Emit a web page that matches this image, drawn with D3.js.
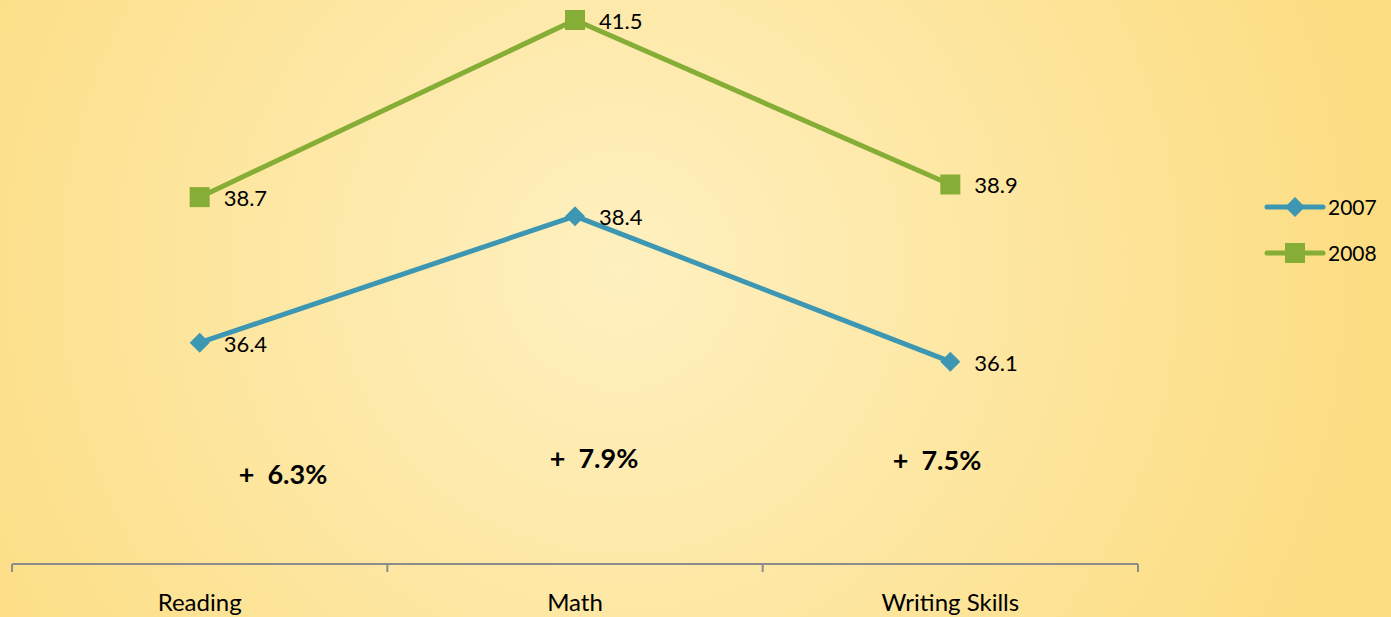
<!DOCTYPE html>
<html>
<head>
<meta charset="utf-8">
<script src="https://d3js.org/d3.v7.min.js"></script>
<style>
    body { margin: 0; overflow: hidden; }
    text { font-family: Lato, "Open Sans", sans-serif; fill: #000; }
</style>
</head>
<body>
<svg id="chart" width="1391" height="617"></svg>
<script>
    const categories = ["Reading", "Math", "Writing Skills"];
    const series2007 = [36.4, 38.4, 36.1];
    const series2008 = [38.7, 41.5, 38.9];
    const seriesNames = ["2007", "2008"];
    const changeLabels = ["+  6.3%", "+  7.9%", "+  7.5%"];
    const changeLevels = [34.17, 34.42, 34.39];

    const svg = d3.select("svg#chart");
    const width = +svg.attr("width");
    const height = +svg.attr("height");

    // background gradient
    const defs = svg.append("defs");
    const grad = defs.append("radialGradient").attr("id", "bg")
        .attr("gradientUnits", "userSpaceOnUse")
        .attr("cx", 620).attr("cy", 270).attr("r", 760);
    grad.append("stop").attr("offset", "0%").attr("stop-color", "#fef0c0");
    grad.append("stop").attr("offset", "100%").attr("stop-color", "#fcdd82");
    svg.append("rect").attr("width", width).attr("height", height).attr("fill", "url(#bg)");

    const plotLeft = 12, plotRight = 1138;
    const x = d3.scaleBand().domain(categories).range([plotLeft, plotRight]);
    const y = d3.scaleLinear().domain([32.87, 41.5]).range([566, 20]);
    const cx = c => x(c) + x.bandwidth() / 2;

    // axis
    const axis = svg.append("g").attr("transform", `translate(0,${y.range()[0] - 2})`);
    axis.append("line").attr("x1", plotLeft).attr("x2", plotRight)
        .attr("stroke", "#8c8c8c").attr("stroke-width", 2);
    const tickPos = categories.map(c => x(c)).concat([plotRight]);
    axis.selectAll("line.tick").data(tickPos).join("line").attr("class", "tick")
        .attr("x1", d => d).attr("x2", d => d).attr("y1", 0).attr("y2", 8)
        .attr("stroke", "#8c8c8c").attr("stroke-width", 2);
    axis.selectAll("text").data(categories).join("text")
        .attr("x", d => cx(d)).attr("y", 47)
        .attr("text-anchor", "middle").style("font-size", "24px")
        .text(d => d);

    const colors = {"2007": "#3d97b3", "2008": "#86ad35"};
    const data = [
        {name: seriesNames[0], values: series2007},
        {name: seriesNames[1], values: series2008}
    ];

    const line = d3.line().x((d, i) => cx(categories[i])).y(d => y(d));

    data.forEach(s => {
        const g = svg.append("g");
        g.append("path").datum(s.values).attr("d", line)
            .attr("fill", "none").attr("stroke", colors[s.name]).attr("stroke-width", 5)
            .attr("stroke-linejoin", "round");
        const isDiamond = s.name === "2007";
        g.selectAll("path.m").data(s.values).join("path").attr("class", "m")
            .attr("d", d3.symbol(d3.symbolSquare, isDiamond ? 200 : 400)())
            .attr("transform", (d, i) => `translate(${cx(categories[i])},${y(d)})` + (isDiamond ? " rotate(45)" : ""))
            .attr("fill", colors[s.name]);
        g.selectAll("text").data(s.values).join("text")
            .attr("x", (d, i) => cx(categories[i]) + 24)
            .attr("y", d => y(d) + 9)
            .style("font-size", "22px")
            .text(d => d.toFixed(1));
    });

    // change labels
    svg.selectAll("text.chg").data(changeLabels).join("text").attr("class", "chg")
        .attr("x", (d, i) => [283, 594, 937][i])
        .attr("y", (d, i) => y(changeLevels[i]))
        .attr("text-anchor", "middle")
        .attr("xml:space", "preserve")
        .style("white-space", "pre")
        .style("font-size", "27px").style("font-weight", "bold")
        .text(d => d);

    // legend
    const legend = svg.append("g").attr("transform", "translate(1267,207)");
    data.forEach((s, i) => {
        const row = legend.append("g").attr("transform", `translate(0,${i * 46})`);
        row.append("line").attr("x1", 0).attr("x2", 56)
            .attr("stroke", colors[s.name]).attr("stroke-width", 5).attr("stroke-linecap", "round");
        row.append("path")
            .attr("d", d3.symbol(d3.symbolSquare, i === 0 ? 200 : 400)())
            .attr("transform", "translate(28,0)" + (i === 0 ? " rotate(45)" : ""))
            .attr("fill", colors[s.name]);
        row.append("text").attr("x", 61).attr("y", 8)
            .style("font-size", "21px").text(s.name);
    });
</script>
</body>
</html>
